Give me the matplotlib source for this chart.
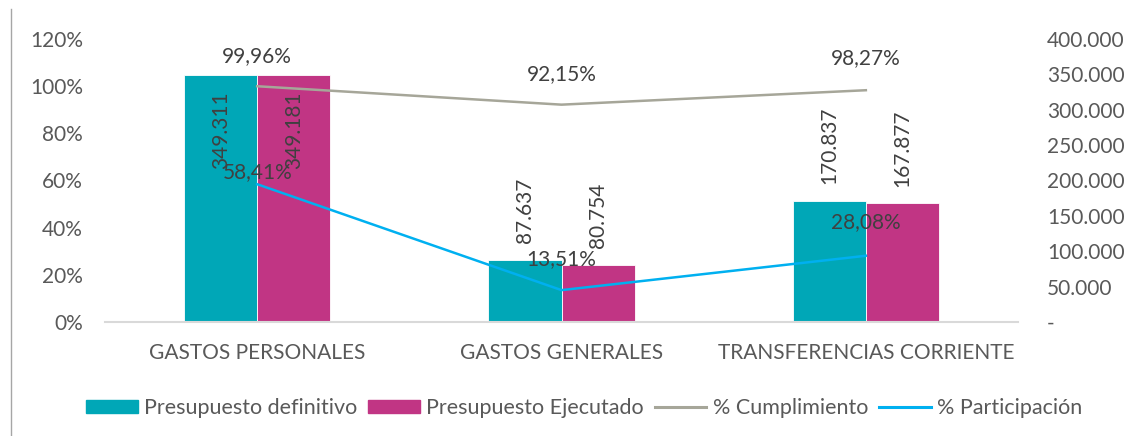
import matplotlib
matplotlib.use("Agg")
import matplotlib.pyplot as plt
from matplotlib.lines import Line2D
from matplotlib.patches import Patch
from matplotlib.ticker import FuncFormatter
import numpy as np

# ---------------------------------------------------------------
# Datos
# ---------------------------------------------------------------
categorias    = ["GASTOS PERSONALES", "GASTOS GENERALES", "TRANSFERENCIAS CORRIENTE"]
definitivo    = [349311, 87637, 170837]
ejecutado     = [349181, 80754, 167877]
cumplimiento  = [99.96, 92.15, 98.27]
participacion = [58.41, 13.51, 28.08]

# ---------------------------------------------------------------
# Colores
# ---------------------------------------------------------------
C_DEF  = "#00A7B7"
C_EJE  = "#C13584"
C_CUM  = "#A6A699"
C_PAR  = "#00B0F0"
TXT    = "#595959"
LBL    = "#404040"
BASE   = "#D9D9D9"

plt.rcParams["font.family"] = ["Lato", "DejaVu Sans"]
FS = 15

fig = plt.figure(figsize=(11.28, 4.36), dpi=100)
ax_bar = fig.add_axes([0.0931, 0.2615, 0.8094, 0.6491])
ax_lin = ax_bar.twinx()

x = np.arange(len(categorias))
w = 0.24

# barras (eje derecho)
b1 = ax_bar.bar(x - w / 2, definitivo, w, color=C_DEF, edgecolor="white", linewidth=0.6)
b2 = ax_bar.bar(x + w / 2, ejecutado, w, color=C_EJE, edgecolor="white", linewidth=0.6)
ax_bar.set_ylim(0, 400000)
ax_bar.set_xlim(-0.5, len(categorias) - 0.5)

def miles(v, pos=None):
    if v == 0:
        return "-"
    return f"{v:,.0f}".replace(",", ".")

for bars in (b1, b2):
    for r in bars:
        v = r.get_height()
        cx = r.get_x() + r.get_width() / 2
        inside = v / 400000 > 0.8
        ax_bar.annotate(miles(v), xy=(cx, v),
                        xytext=(0, -12 if inside else 12), textcoords="offset points",
                        rotation=90, ha="center", va="top" if inside else "bottom",
                        fontsize=FS, color=LBL)

# lineas (eje izquierdo)
cum = [c / 100 for c in cumplimiento]
par = [p / 100 for p in participacion]
ax_lin.plot(x, cum, color=C_CUM, lw=1.8, solid_joinstyle="miter")
ax_lin.plot(x, par, color=C_PAR, lw=1.8, solid_joinstyle="miter")
ax_lin.set_ylim(0, 1.2)

off_cum = [22, 22, 23]
off_par = [9, 22, 24]
for xi, v, o in zip(x, cum, off_cum):
    ax_lin.annotate(f"{v * 100:.2f}%".replace(".", ","), xy=(xi, v), xytext=(0, o),
                    textcoords="offset points", ha="center", va="center",
                    fontsize=FS, color=LBL)
for xi, v, o in zip(x, par, off_par):
    ax_lin.annotate(f"{v * 100:.2f}%".replace(".", ","), xy=(xi, v), xytext=(0, o),
                    textcoords="offset points", ha="center", va="center",
                    fontsize=FS, color=LBL)

# ejes
ax_lin.yaxis.tick_left()
ax_bar.yaxis.tick_right()
ax_lin.yaxis.set_major_locator(plt.MultipleLocator(0.2))
ax_lin.yaxis.set_major_formatter(FuncFormatter(lambda v, p: f"{v * 100:.0f}%"))
ax_bar.yaxis.set_major_locator(plt.MultipleLocator(50000))
ax_bar.yaxis.set_major_formatter(FuncFormatter(miles))
ax_bar.set_xticks(x)
ax_bar.set_xticklabels(categorias)

ax_bar.tick_params(axis="y", length=0, pad=21, labelsize=FS, labelcolor=TXT)
ax_lin.tick_params(axis="y", length=0, pad=16, labelsize=FS, labelcolor=TXT)
ax_bar.tick_params(axis="x", length=0, pad=15, labelsize=FS, labelcolor=TXT)
ax_lin.tick_params(axis="x", length=0)

for a in (ax_bar, ax_lin):
    for s in ("top", "left", "right"):
        a.spines[s].set_visible(False)
ax_lin.spines["bottom"].set_visible(False)
ax_bar.spines["bottom"].set_color(BASE)
ax_bar.spines["bottom"].set_linewidth(1.5)

# leyenda
handles = [Patch(color=C_DEF), Patch(color=C_EJE),
           Line2D([], [], color=C_CUM, lw=2.2), Line2D([], [], color=C_PAR, lw=2.2)]
labels = ["Presupuesto definitivo", "Presupuesto Ejecutado", "% Cumplimiento", "% Participación"]
fig.legend(handles, labels, loc="center", bbox_to_anchor=(0.518, 0.064), ncol=4,
           frameon=False, fontsize=15.5, labelcolor=TXT, handlelength=2.4,
           handleheight=0.6, handletextpad=0.3, columnspacing=0.5)

# borde izquierdo del area del grafico
fig.add_artist(Line2D([0.0098, 0.0098], [0, 0.979], color="#A6A6A6", lw=1.0))

fig.savefig("out.png", dpi=100)
